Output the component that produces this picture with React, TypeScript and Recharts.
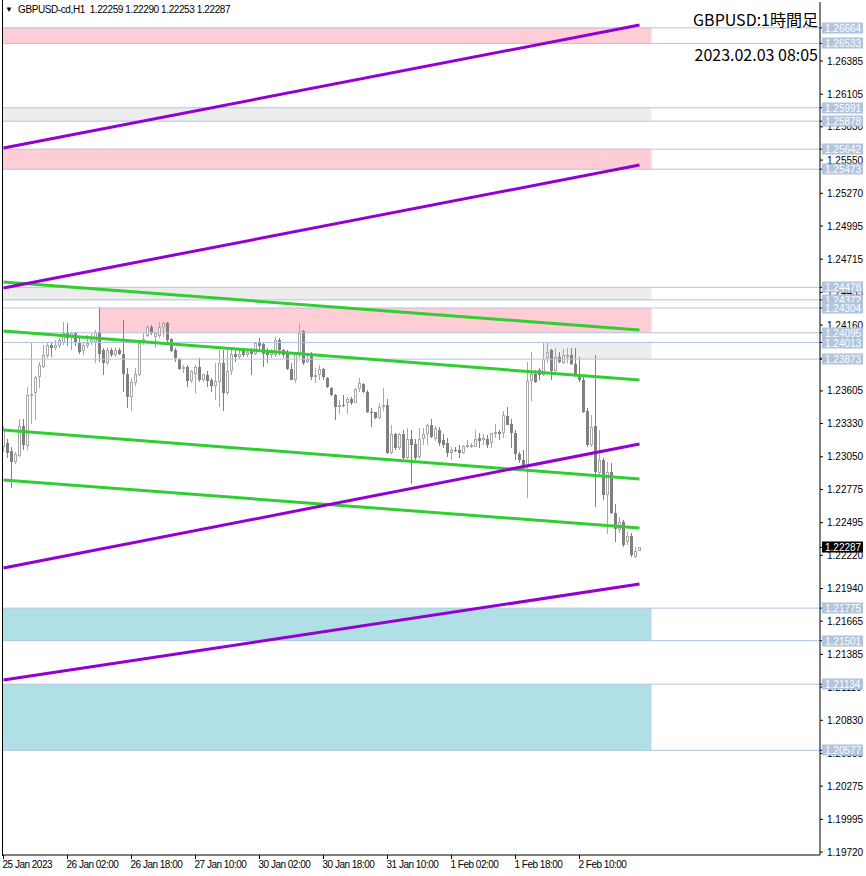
import React from 'react';
import { ComposedChart, Bar, XAxis, YAxis, ReferenceArea, ReferenceLine } from 'recharts';

// hourly GBPUSD candles, bar index 0..159
const opens = [
  1.2313, 1.2317, 1.2310, 1.2301, 1.2306, 1.2331, 1.2314, 1.2356, 1.2359, 1.2372,
  1.2381, 1.2390, 1.2399, 1.2397, 1.2398, 1.2401, 1.2409, 1.2407, 1.2409, 1.2401,
  1.2394, 1.2398, 1.2401, 1.2402, 1.2410, 1.2395, 1.2384, 1.2395, 1.2391, 1.2395,
  1.2392, 1.2375, 1.2355, 1.2367, 1.2374, 1.2401, 1.2407, 1.2414, 1.2406, 1.2407,
  1.2414, 1.2418, 1.2404, 1.2395, 1.2387, 1.2379, 1.2381, 1.2369, 1.2375, 1.2381,
  1.2370, 1.2374, 1.2370, 1.2365, 1.2368, 1.2384, 1.2359, 1.2377, 1.2392, 1.2389,
  1.2396, 1.2391, 1.2396, 1.2392, 1.2401, 1.2400, 1.2395, 1.2391, 1.2391, 1.2403,
  1.2395, 1.2392, 1.2379, 1.2370, 1.2392, 1.2411, 1.2385, 1.2391, 1.2372, 1.2374,
  1.2379, 1.2371, 1.2363, 1.2357, 1.2347, 1.2349, 1.2350, 1.2354, 1.2350, 1.2362,
  1.2366, 1.2360, 1.2343, 1.2343, 1.2338, 1.2347, 1.2349, 1.2308, 1.2324, 1.2312,
  1.2324, 1.2304, 1.2320, 1.2316, 1.2305, 1.2320, 1.2324, 1.2332, 1.2320, 1.2328,
  1.2319, 1.2317, 1.2308, 1.2311, 1.2311, 1.2308, 1.2313, 1.2313, 1.2313, 1.2321,
  1.2319, 1.2320, 1.2317, 1.2324, 1.2326, 1.2325, 1.2339, 1.2333, 1.2325, 1.2307,
  1.2302, 1.2296, 1.2369, 1.2375, 1.2378, 1.2374, 1.2388, 1.2395, 1.2377, 1.2389,
  1.2384, 1.2389, 1.2391, 1.2383, 1.2375, 1.2370, 1.2344, 1.2315, 1.2331, 1.2291,
  1.2302, 1.2273, 1.2292, 1.2258, 1.2243, 1.2250, 1.2233, 1.2238, 1.2221, 1.22259,
];
const highs = [
  1.2331, 1.2320, 1.2313, 1.2309, 1.2337, 1.2337, 1.2364, 1.2401, 1.2373, 1.2385,
  1.2399, 1.2401, 1.2401, 1.2403, 1.2405, 1.2419, 1.2418, 1.2410, 1.2410, 1.2405,
  1.2401, 1.2408, 1.2409, 1.2412, 1.2431, 1.2397, 1.2397, 1.2397, 1.2397, 1.2397,
  1.2420, 1.2380, 1.2371, 1.2380, 1.2403, 1.2409, 1.2416, 1.2416, 1.2410, 1.2419,
  1.2419, 1.2419, 1.2405, 1.2397, 1.2388, 1.2382, 1.2382, 1.2378, 1.2382, 1.2388,
  1.2375, 1.2377, 1.2371, 1.2384, 1.2395, 1.2395, 1.2395, 1.2395, 1.2395, 1.2395,
  1.2397, 1.2396, 1.2397, 1.2401, 1.2405, 1.2401, 1.2397, 1.2396, 1.2406, 1.2405,
  1.2396, 1.2395, 1.2384, 1.2393, 1.2418, 1.2412, 1.2391, 1.2393, 1.2380, 1.2382,
  1.2380, 1.2372, 1.2364, 1.2358, 1.2353, 1.2357, 1.2355, 1.2355, 1.2363, 1.2371,
  1.2367, 1.2361, 1.2346, 1.2343, 1.2350, 1.2363, 1.2354, 1.2332, 1.2325, 1.2325,
  1.2328, 1.2329, 1.2328, 1.2320, 1.2329, 1.2329, 1.2333, 1.2337, 1.2331, 1.2330,
  1.2324, 1.2321, 1.2313, 1.2313, 1.2315, 1.2315, 1.2319, 1.2317, 1.2328, 1.2325,
  1.2324, 1.2323, 1.2325, 1.2333, 1.2328, 1.2344, 1.2347, 1.2337, 1.2328, 1.2309,
  1.2311, 1.2385, 1.2393, 1.2378, 1.2380, 1.2401, 1.2401, 1.2396, 1.2397, 1.2393,
  1.2396, 1.2397, 1.2397, 1.2397, 1.2389, 1.2374, 1.2346, 1.2340, 1.2391, 1.2328,
  1.2304, 1.2301, 1.2300, 1.2265, 1.2254, 1.2252, 1.2242, 1.2241, 1.2229, 1.22290,
];
const lows = [
  1.2309, 1.2304, 1.2279, 1.2299, 1.2305, 1.2311, 1.2311, 1.2333, 1.2336, 1.2363,
  1.2380, 1.2388, 1.2389, 1.2395, 1.2397, 1.2399, 1.2398, 1.2395, 1.2398, 1.2392,
  1.2391, 1.2397, 1.2399, 1.2384, 1.2385, 1.2374, 1.2382, 1.2389, 1.2389, 1.2391,
  1.2360, 1.2346, 1.2344, 1.2365, 1.2373, 1.2399, 1.2406, 1.2408, 1.2397, 1.2405,
  1.2406, 1.2401, 1.2393, 1.2385, 1.2378, 1.2376, 1.2364, 1.2367, 1.2359, 1.2368,
  1.2368, 1.2364, 1.2360, 1.2353, 1.2347, 1.2344, 1.2357, 1.2374, 1.2385, 1.2387,
  1.2389, 1.2389, 1.2374, 1.2391, 1.2395, 1.2381, 1.2384, 1.2388, 1.2389, 1.2391,
  1.2388, 1.2378, 1.2370, 1.2367, 1.2388, 1.2382, 1.2384, 1.2370, 1.2367, 1.2370,
  1.2370, 1.2363, 1.2356, 1.2336, 1.2341, 1.2347, 1.2341, 1.2349, 1.2350, 1.2360,
  1.2359, 1.2342, 1.2330, 1.2337, 1.2337, 1.2344, 1.2307, 1.2307, 1.2311, 1.2311,
  1.2303, 1.2303, 1.2282, 1.2302, 1.2303, 1.2315, 1.2315, 1.2321, 1.2318, 1.2314,
  1.2312, 1.2305, 1.2302, 1.2309, 1.2304, 1.2307, 1.2312, 1.2312, 1.2313, 1.2312,
  1.2315, 1.2312, 1.2312, 1.2321, 1.2319, 1.2321, 1.2332, 1.2312, 1.2302, 1.2300,
  1.2295, 1.2270, 1.2352, 1.2367, 1.2370, 1.2373, 1.2384, 1.2370, 1.2376, 1.2384,
  1.2383, 1.2384, 1.2382, 1.2372, 1.2368, 1.2342, 1.2313, 1.2313, 1.2263, 1.2290,
  1.2269, 1.2240, 1.2257, 1.2233, 1.2241, 1.2229, 1.2231, 1.2221, 1.2220, 1.22253,
];
const closes = [
  1.2328, 1.2308, 1.2301, 1.2307, 1.2331, 1.2315, 1.2357, 1.2358, 1.2372, 1.2382,
  1.2391, 1.2399, 1.2397, 1.2399, 1.2403, 1.2409, 1.2405, 1.2409, 1.2401, 1.2393,
  1.2399, 1.2401, 1.2403, 1.2410, 1.2392, 1.2384, 1.2395, 1.2391, 1.2395, 1.2392,
  1.2375, 1.2355, 1.2368, 1.2375, 1.2401, 1.2404, 1.2414, 1.2409, 1.2409, 1.2414,
  1.2418, 1.2403, 1.2394, 1.2388, 1.2379, 1.2381, 1.2369, 1.2377, 1.2381, 1.2370,
  1.2375, 1.2369, 1.2365, 1.2369, 1.2384, 1.2359, 1.2377, 1.2392, 1.2389, 1.2392,
  1.2391, 1.2393, 1.2392, 1.2401, 1.2398, 1.2392, 1.2391, 1.2395, 1.2403, 1.2395,
  1.2391, 1.2379, 1.2370, 1.2392, 1.2409, 1.2384, 1.2387, 1.2372, 1.2374, 1.2379,
  1.2372, 1.2364, 1.2357, 1.2347, 1.2349, 1.2348, 1.2354, 1.2350, 1.2362, 1.2367,
  1.2360, 1.2343, 1.2342, 1.2338, 1.2347, 1.2349, 1.2308, 1.2324, 1.2312, 1.2324,
  1.2304, 1.2320, 1.2315, 1.2304, 1.2320, 1.2324, 1.2332, 1.2322, 1.2329, 1.2317,
  1.2315, 1.2308, 1.2311, 1.2310, 1.2308, 1.2314, 1.2315, 1.2315, 1.2320, 1.2318,
  1.2321, 1.2315, 1.2325, 1.2326, 1.2324, 1.2340, 1.2332, 1.2325, 1.2307, 1.2302,
  1.2296, 1.2369, 1.2375, 1.2368, 1.2374, 1.2387, 1.2393, 1.2377, 1.2389, 1.2385,
  1.2391, 1.2391, 1.2383, 1.2375, 1.2370, 1.2343, 1.2315, 1.2330, 1.2292, 1.2302,
  1.2273, 1.2292, 1.2258, 1.2244, 1.2250, 1.2231, 1.2238, 1.2222, 1.2226, 1.22287,
];

const timeTicks = [0, 16, 32, 48, 64, 80, 96, 112, 128, 144];
const timeLabels = [
  '25 Jan 2023', '26 Jan 02:00', '26 Jan 18:00', '27 Jan 10:00', '30 Jan 02:00',
  '30 Jan 18:00', '31 Jan 10:00', '1 Feb 02:00', '1 Feb 18:00', '2 Feb 10:00',
];

const priceTicks = [
  1.26385, 1.26105, 1.2583, 1.2555, 1.2527, 1.24995, 1.24715, 1.24435, 1.2416,
  1.2388, 1.23605, 1.2333, 1.2305, 1.22775, 1.22495, 1.2222, 1.2194, 1.21665,
  1.21385, 1.2111, 1.2083, 1.2055, 1.20275, 1.19995, 1.1972,
];

// supply / demand boxes
const zoneKind = ['pink', 'gray', 'pink', 'gray', 'pink', 'gray', 'blue', 'blue'];
const zoneTop = [1.26664, 1.25991, 1.25642, 1.24478, 1.24304, 1.24013, 1.21775, 1.21134];
const zoneBottom = [1.26533, 1.25878, 1.25473, 1.24372, 1.24095, 1.23873, 1.21501, 1.20577];
const zoneFrom = [-0.375, -0.375, -0.375, -0.375, 24, 135, -0.375, -0.375];
const zoneTo = 162;

// channel lines: price at bar 0 and at bar 159
const purpleStart = [1.25652, 1.24472, 1.22113, 1.21169];
const purpleEnd = [1.26688, 1.25509, 1.23158, 1.21978];
const greenStart = [1.24523, 1.2411, 1.23276, 1.22855];
const greenEnd = [1.24118, 1.23697, 1.22863, 1.2245];
const lineFrom = 0;
const lineTo = 159;

const zoneFill: Record<string, string> = { pink: '#FFCDD6', gray: '#EDEDED', blue: '#B0E0E6' };
const FONT = '"Liberation Sans", Arial, sans-serif';

const lastClose = closes[closes.length - 1];
const zoneEdges = zoneTop.flatMap((t, k) => [t, zoneBottom[k]]);
// tags come after the plain ticks so they are painted over them
const axisTicks = [...priceTicks, ...zoneEdges, lastClose];

const data = opens.map((o, i) => ({
  i,
  o,
  h: highs[i],
  l: lows[i],
  c: closes[i],
  range: [lows[i], highs[i]],
}));

const Candle = (props: any) => {
  const { x, y, width, height, payload } = props;
  if (!payload) return null;
  const { o, h, l, c } = payload;
  const span = h - l;
  const py = (p: number) => (span > 0 ? y + ((h - p) / span) * height : y);
  const cx = Math.floor(x + width / 2) + 0.5;
  const top = Math.round(py(Math.max(o, c)));
  const bot = Math.round(py(Math.min(o, c)));
  const bull = c >= o;
  if (bull) {
    return (
      <g>
        <line x1={cx} x2={cx} y1={Math.round(y)} y2={Math.round(y + height)} stroke="#A8A8A8" strokeWidth={1} />
        <rect x={cx - 1} y={top + 0.5} width={2} height={Math.max(bot - top - 1, 0)} fill="#fff" stroke="#A8A8A8" strokeWidth={1} />
      </g>
    );
  }
  return (
    <g>
      <line x1={cx} x2={cx} y1={Math.round(y)} y2={Math.round(y + height)} stroke="#808080" strokeWidth={1} />
      <rect x={cx - 1.5} y={top} width={3} height={Math.max(bot - top, 1)} fill="#808080" />
    </g>
  );
};

const TimeTick = ({ x, y, payload }: any) => (
  <text x={x - 1} y={y + 7} fontSize={10} fill="#000" fontFamily={FONT} textAnchor="start" letterSpacing={-0.5}>
    {timeLabels[timeTicks.indexOf(payload.value)]}
  </text>
);

const PriceTick = ({ x, y, payload }: any) => {
  const v = payload.value as number;
  const tagged = v === lastClose || zoneEdges.includes(v);
  if (!tagged) {
    return (
      <text x={x} y={y} dy="0.355em" fontSize={10} fill="#000" fontFamily={FONT}>
        {v.toFixed(5)}
      </text>
    );
  }
  const ry = Math.round(y);
  return (
    <g>
      <rect x={x - 5} y={ry - 5.5} width={41} height={11} fill={v === lastClose ? '#000' : '#B0C4DE'} />
      <text x={x - 2} y={ry + 4} fontSize={10} fill="#fff" fontFamily={FONT}>
        {v.toFixed(5)}
      </text>
    </g>
  );
};

export default function App() {
  return (
    <div style={{ position: 'absolute', left: 0, top: 0, width: 866, height: 876, background: '#fff', fontFamily: FONT }}>
      <ComposedChart
        width={866}
        height={876}
        data={data}
        margin={{ top: 2, right: 0, bottom: 0, left: 2 }}
        style={{ fontFamily: FONT }}
      >
        <XAxis
          dataKey="i"
          type="number"
          domain={[-0.375, 204.125]}
          ticks={timeTicks}
          allowDataOverflow
          height={21}
          axisLine={{ stroke: '#000' }}
          tickLine={{ stroke: '#000' }}
          tickSize={4}
          tick={<TimeTick />}
          interval={0}
        />
        <YAxis
          orientation="right"
          type="number"
          domain={[1.19695, 1.26882]}
          ticks={axisTicks}
          allowDataOverflow
          width={46}
          axisLine={{ stroke: '#000' }}
          tickLine={{ stroke: '#000' }}
          tickSize={3}
          tickMargin={4}
          interval={0}
          tick={<PriceTick />}
        />
        {zoneTop.map((t, k) => (
          <ReferenceArea
            key={'z' + k}
            x1={zoneFrom[k]}
            x2={zoneTo}
            y1={zoneBottom[k]}
            y2={t}
            fill={zoneFill[zoneKind[k]]}
            fillOpacity={1}
            stroke="none"
            ifOverflow="hidden"
          />
        ))}
        {zoneEdges.map((p, k) => (
          <ReferenceLine key={'e' + k} y={p} stroke="#B0C4DE" strokeWidth={1} />
        ))}
        <Bar dataKey="range" barSize={3} shape={<Candle />} isAnimationActive={false} />
        {greenStart.map((s, k) => (
          <ReferenceLine
            key={'g' + k}
            segment={[{ x: lineFrom, y: s }, { x: lineTo, y: greenEnd[k] }]}
            stroke="#32CD32"
            strokeWidth={3}
          />
        ))}
        {purpleStart.map((s, k) => (
          <ReferenceLine
            key={'p' + k}
            segment={[{ x: lineFrom, y: s }, { x: lineTo, y: purpleEnd[k] }]}
            stroke="#9400D3"
            strokeWidth={3}
          />
        ))}
      </ComposedChart>
      <div style={{ position: 'absolute', left: 2, top: 0, width: 1, height: 856, background: '#000' }} />
      <div style={{ position: 'absolute', left: 5, top: 5, fontSize: 8, lineHeight: '10px', color: '#000' }}>▼</div>
      <div
        style={{
          position: 'absolute',
          left: 18,
          top: 4,
          fontSize: 10,
          lineHeight: '12px',
          color: '#000',
          whiteSpace: 'pre',
          letterSpacing: -0.4,
        }}
      >
        {'GBPUSD-cd,H1  1.22259 1.22290 1.22253 1.22287'}
      </div>
      <div
        style={{
          position: 'absolute',
          right: 48,
          top: 9,
          fontSize: 16,
          lineHeight: '20px',
          color: '#000',
          fontFamily: '"Noto Sans CJK JP", "Noto Sans", sans-serif',
          textAlign: 'right',
        }}
      >
        <div>GBPUSD:1時間足</div>
        <div style={{ marginTop: 15 }}>2023.02.03 08:05</div>
      </div>
    </div>
  );
}
